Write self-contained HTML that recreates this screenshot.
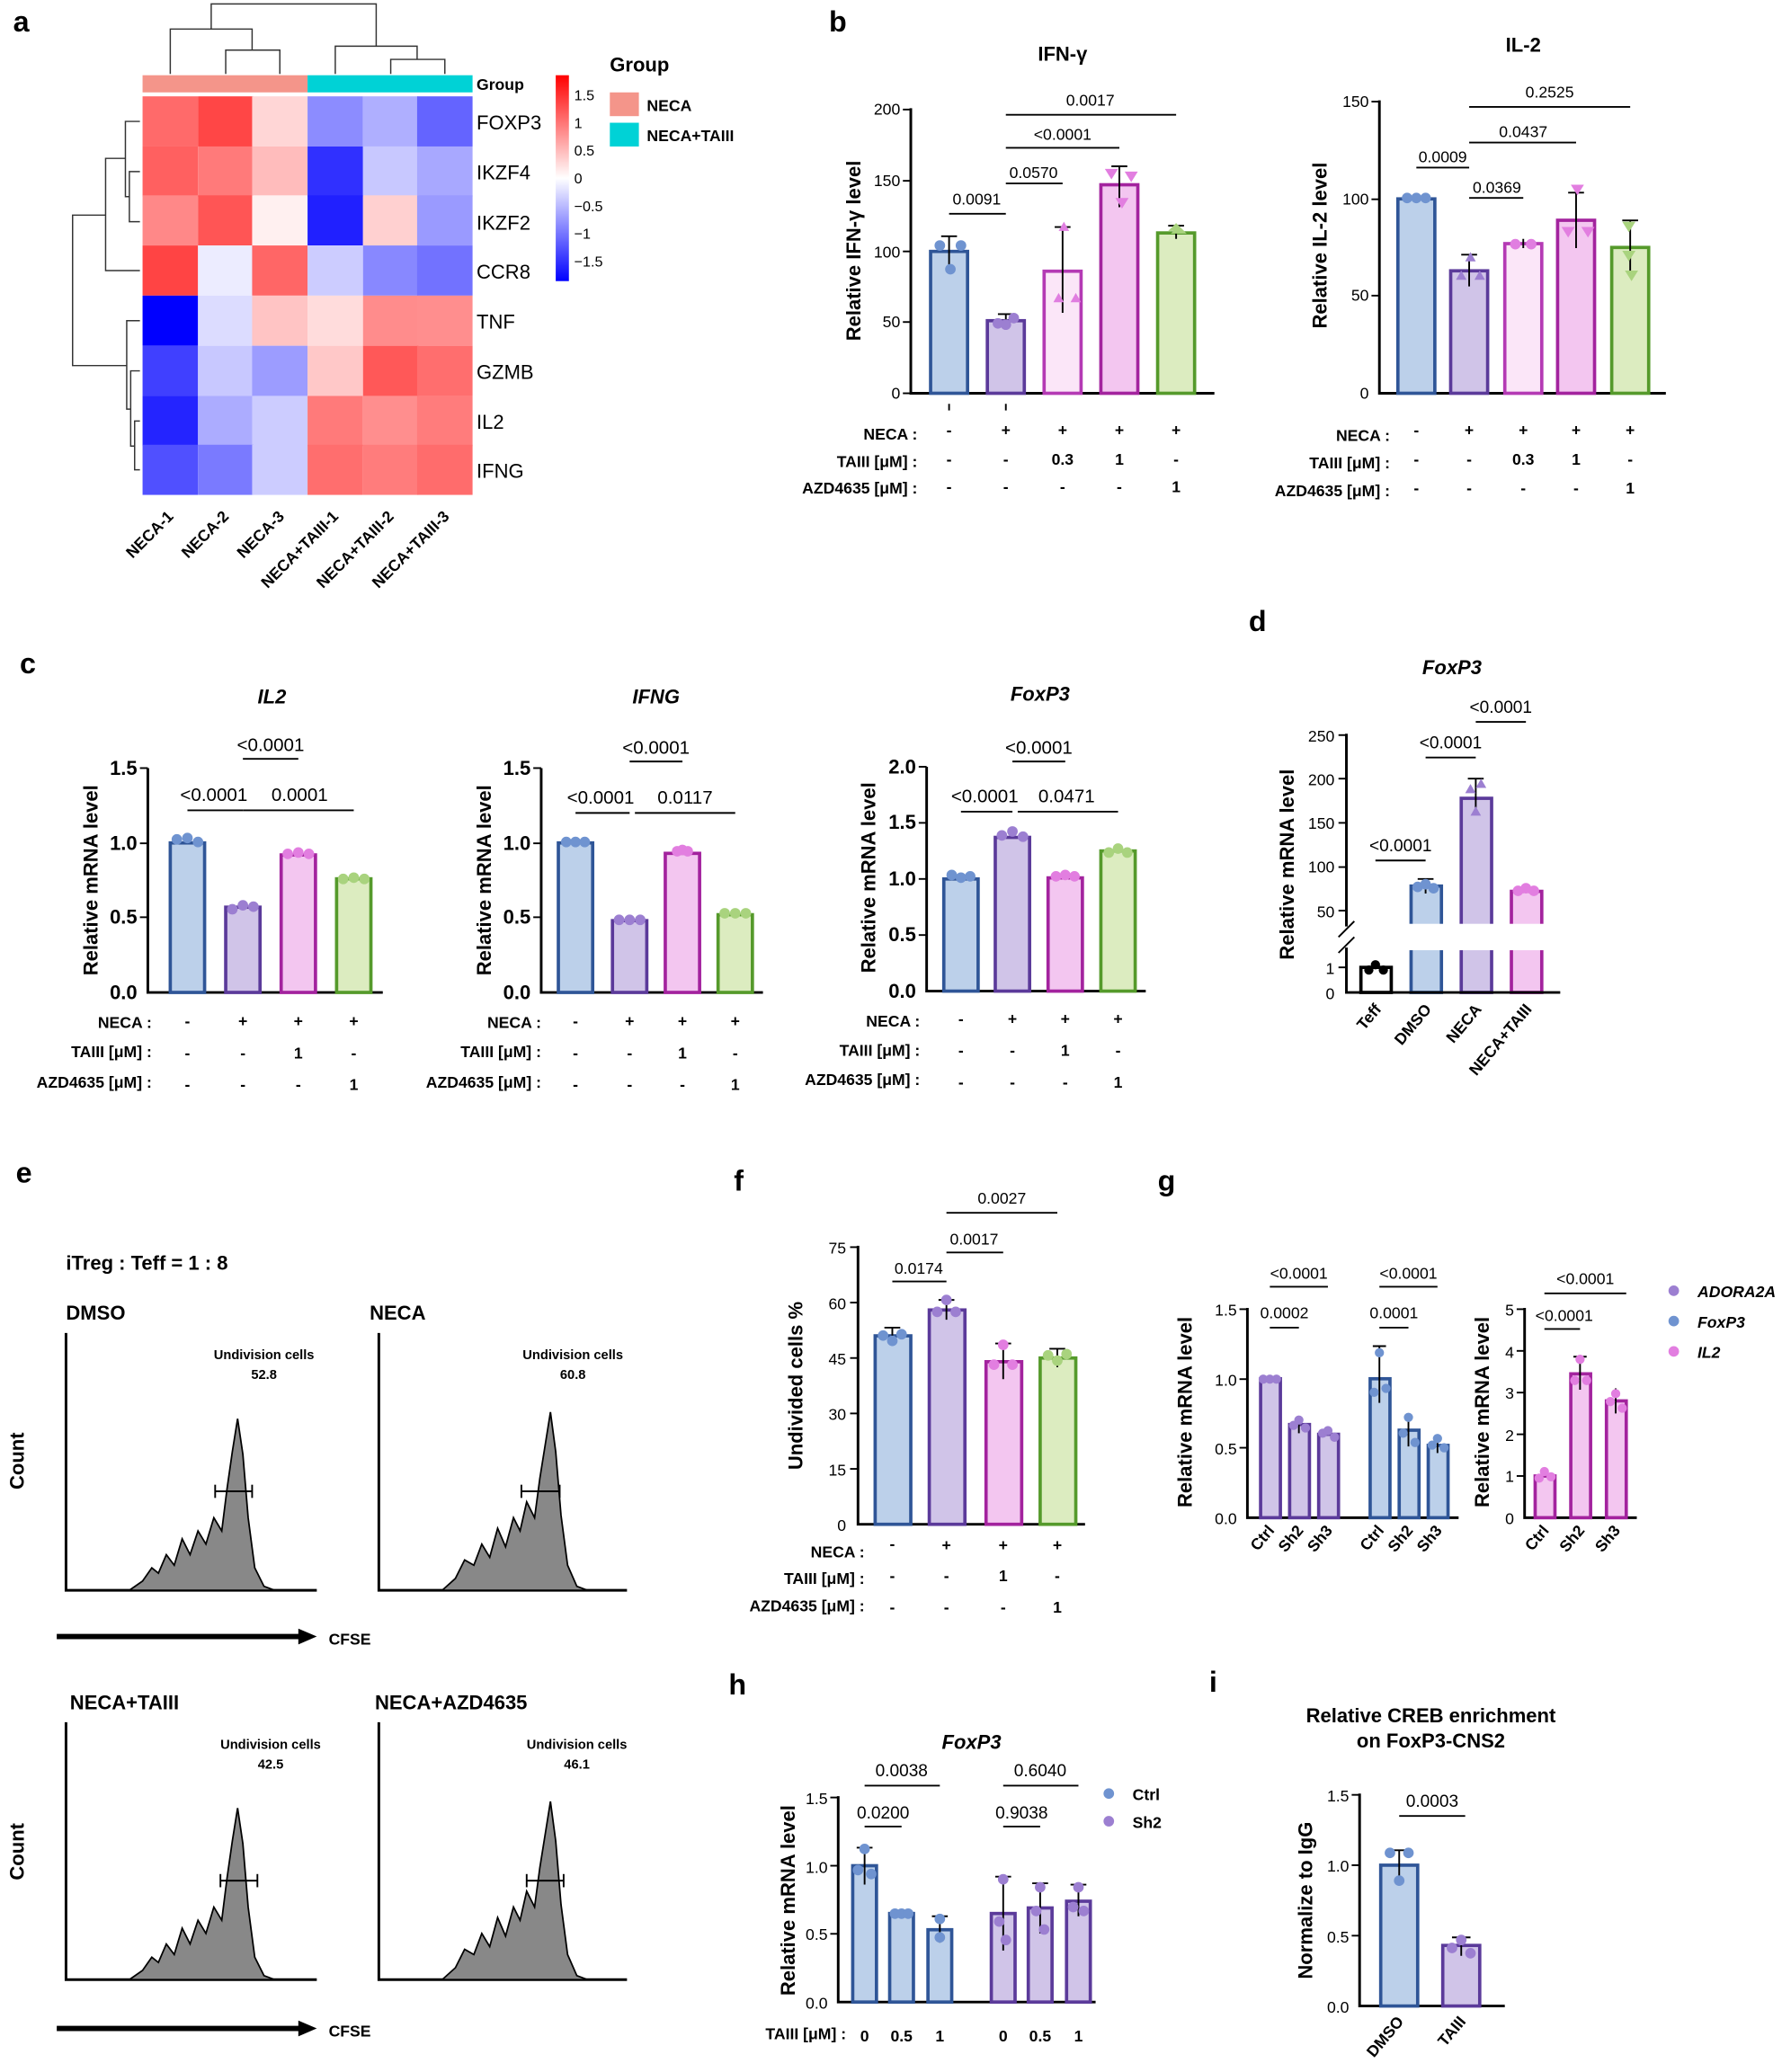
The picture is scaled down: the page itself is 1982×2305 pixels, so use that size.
<!DOCTYPE html>
<html><head><meta charset="utf-8"><style>
html,body{margin:0;padding:0;background:#fff}
svg{display:block}
text{font-family:"Liberation Sans",Arial,sans-serif;fill:#000}
.t{font-size:12px;font-weight:bold}
.s{font-size:12px}
.ti{font-size:15px;font-weight:bold}
.pl{font-size:22px;font-weight:bold}
.ax{stroke:#000;stroke-width:2;fill:none}
.ln{stroke:#000;stroke-width:1.3}
.B{fill:#bcd0ea;stroke:#2f5597;stroke-width:2.5}
.P{fill:#d0c4e8;stroke:#5b3a9a;stroke-width:2.5}
.K{fill:#f3c6f0;stroke:#a3239e;stroke-width:2.5}
.L{fill:#fbe6f8;stroke:#b43ab4;stroke-width:2.5}
.G{fill:#dcecc0;stroke:#559a2b;stroke-width:2.5}
.W{fill:#fff;stroke:#000;stroke-width:2.5}
.dB{fill:#6f93d0}.dP{fill:#9c7fd1}.dK{fill:#e27ee0}.dG{fill:#a9d37e}.dL{fill:#e07ee0}
</style></head><body>
<svg width="1982" height="2305" viewBox="0 0 1350 1570" xmlns="http://www.w3.org/2000/svg">

<!-- ============ Panel a ============ -->
<text class="pl" x="10" y="24">a</text>
<!-- top dendrogram -->
<g stroke="#333" stroke-width="1" fill="none">
<path d="M171,56 V38 H212 V56"/><path d="M129,56 V22 H191 V38"/>
<path d="M296,56 V45 H337 V56"/><path d="M254,56 V35 H316 V45"/>
<path d="M160,22 V3 H285 V35"/>
<!-- left dendrogram -->
<path d="M106,130 H98 V168 H106"/><path d="M106,92 H95 V149 H98"/><path d="M106,205 H80 V120 H95"/>
<path d="M106,319 H102 V356 H106"/><path d="M106,281 H99 V338 H102"/><path d="M106,243 H96 V310 H99"/>
<path d="M80,163 H55 V277 H96"/>
</g>
<rect x="108" y="57" width="125" height="13" fill="#f4958a"/>
<rect x="233" y="57" width="125" height="13" fill="#00d2d6"/>
<text class="t" x="361" y="68">Group</text>
<g>
<!-- rows: y start 73, h 37.75; cols x 108 w 41.67 -->
<rect x="108" y="73" width="42" height="38" fill="#ff6a6a"/><rect x="150" y="73" width="42" height="38" fill="#ff4646"/><rect x="191" y="73" width="42" height="38" fill="#ffd6d6"/><rect x="233" y="73" width="42" height="38" fill="#8c8cff"/><rect x="275" y="73" width="42" height="38" fill="#afafff"/><rect x="316" y="73" width="42" height="38" fill="#6464ff"/>
<rect x="108" y="111" width="42" height="38" fill="#ff6060"/><rect x="150" y="111" width="42" height="38" fill="#ff7a7a"/><rect x="191" y="111" width="42" height="38" fill="#ffbcbc"/><rect x="233" y="111" width="42" height="38" fill="#3030ff"/><rect x="275" y="111" width="42" height="38" fill="#c8c8ff"/><rect x="316" y="111" width="42" height="38" fill="#a8a8ff"/>
<rect x="108" y="148" width="42" height="38" fill="#ff8888"/><rect x="150" y="148" width="42" height="38" fill="#ff5555"/><rect x="191" y="148" width="42" height="38" fill="#fff0f0"/><rect x="233" y="148" width="42" height="38" fill="#2020ff"/><rect x="275" y="148" width="42" height="38" fill="#ffd0d0"/><rect x="316" y="148" width="42" height="38" fill="#9a9aff"/>
<rect x="108" y="186" width="42" height="38" fill="#ff4444"/><rect x="150" y="186" width="42" height="38" fill="#ececff"/><rect x="191" y="186" width="42" height="38" fill="#ff6666"/><rect x="233" y="186" width="42" height="38" fill="#ccccff"/><rect x="275" y="186" width="42" height="38" fill="#8888ff"/><rect x="316" y="186" width="42" height="38" fill="#7272ff"/>
<rect x="108" y="224" width="42" height="38" fill="#0000ff"/><rect x="150" y="224" width="42" height="38" fill="#dcdcff"/><rect x="191" y="224" width="42" height="38" fill="#ffc4c4"/><rect x="233" y="224" width="42" height="38" fill="#ffdcdc"/><rect x="275" y="224" width="42" height="38" fill="#ff8c8c"/><rect x="316" y="224" width="42" height="38" fill="#ff8e8e"/>
<rect x="108" y="262" width="42" height="38" fill="#4040ff"/><rect x="150" y="262" width="42" height="38" fill="#c8c8ff"/><rect x="191" y="262" width="42" height="38" fill="#9c9cff"/><rect x="233" y="262" width="42" height="38" fill="#ffc8c8"/><rect x="275" y="262" width="42" height="38" fill="#ff5858"/><rect x="316" y="262" width="42" height="38" fill="#ff6e6e"/>
<rect x="108" y="300" width="42" height="38" fill="#2424ff"/><rect x="150" y="300" width="42" height="38" fill="#acacff"/><rect x="191" y="300" width="42" height="38" fill="#ccccff"/><rect x="233" y="300" width="42" height="38" fill="#ff7a7a"/><rect x="275" y="300" width="42" height="38" fill="#ff8e8e"/><rect x="316" y="300" width="42" height="38" fill="#ff7c7c"/>
<rect x="108" y="337" width="42" height="38" fill="#5050ff"/><rect x="150" y="337" width="42" height="38" fill="#7a7aff"/><rect x="191" y="337" width="42" height="38" fill="#ccccff"/><rect x="233" y="337" width="42" height="38" fill="#ff6e6e"/><rect x="275" y="337" width="42" height="38" fill="#ff7c7c"/><rect x="316" y="337" width="42" height="38" fill="#ff6c6c"/>
</g>
<g font-size="15"><text x="361" y="98">FOXP3</text><text x="361" y="136">IKZF4</text><text x="361" y="174">IKZF2</text><text x="361" y="211">CCR8</text><text x="361" y="249">TNF</text><text x="361" y="287">GZMB</text><text x="361" y="325">IL2</text><text x="361" y="362">IFNG</text></g>
<g class="t" font-size="13">
<text transform="translate(132,392) rotate(-45)" text-anchor="end">NECA-1</text>
<text transform="translate(174,392) rotate(-45)" text-anchor="end">NECA-2</text>
<text transform="translate(216,392) rotate(-45)" text-anchor="end">NECA-3</text>
<text transform="translate(257,392) rotate(-45)" text-anchor="end">NECA+TAIII-1</text>
<text transform="translate(299,392) rotate(-45)" text-anchor="end">NECA+TAIII-2</text>
<text transform="translate(341,392) rotate(-45)" text-anchor="end">NECA+TAIII-3</text>
</g>
<defs><linearGradient id="cb" x1="0" y1="0" x2="0" y2="1"><stop offset="0" stop-color="#ff0000"/><stop offset="0.5" stop-color="#ffffff"/><stop offset="1" stop-color="#0000ff"/></linearGradient></defs>
<rect x="421" y="57" width="10" height="156" fill="url(#cb)"/>
<g font-size="11"><text x="435" y="76">1.5</text><text x="435" y="97">1</text><text x="435" y="118">0.5</text><text x="435" y="139">0</text><text x="435" y="160">−0.5</text><text x="435" y="181">−1</text><text x="435" y="202">−1.5</text></g>
<text class="ti" font-size="14" x="462" y="54">Group</text>
<rect x="462" y="70" width="22" height="18" fill="#f4958a"/><text class="t" x="490" y="84">NECA</text>
<rect x="462" y="93" width="22" height="18" fill="#00d2d6"/><text class="t" x="490" y="107">NECA+TAIII</text>

<!-- ============ Panel b ============ -->
<text class="pl" x="628" y="24">b</text>
<text class="ti" x="805" y="46" text-anchor="middle">IFN-γ</text>
<text class="ti" transform="translate(652,190) rotate(-90)" text-anchor="middle">Relative IFN-γ level</text>
<path class="ax" d="M690,82 V298 H920"/>
<g class="ln"><line x1="684" y1="83" x2="690" y2="83"/><line x1="684" y1="137" x2="690" y2="137"/><line x1="684" y1="190.5" x2="690" y2="190.5"/><line x1="684" y1="244" x2="690" y2="244"/><line x1="684" y1="298" x2="690" y2="298"/></g>
<g class="s" text-anchor="end"><text x="682" y="87">200</text><text x="682" y="141">150</text><text x="682" y="195">100</text><text x="682" y="248">50</text><text x="682" y="302">0</text></g>
<rect class="B" x="705" y="190.5" width="28" height="107.5"/>
<rect class="P" x="748" y="243" width="28" height="55"/>
<rect class="L" x="791" y="205.5" width="28" height="92.5"/>
<rect class="K" x="834" y="140" width="28" height="158"/>
<rect class="G" x="877" y="176.5" width="28" height="121.5"/>
<g class="ln" stroke-width="1.5">
<path d="M719,179V206M713,179h12"/><path d="M762,238V248M756,238h12"/><path d="M805,172V237M799,172h12"/><path d="M848,126V157M842,126h12"/><path d="M891,171V181M885,171h12"/>
</g>
<circle class="dB" cx="712" cy="186" r="4"/><circle class="dB" cx="728" cy="186" r="4"/><circle class="dB" cx="720" cy="204" r="4"/>
<circle class="dP" cx="756" cy="245" r="4"/><circle class="dP" cx="768" cy="241" r="4"/><circle class="dP" cx="762" cy="246" r="4"/>
<path class="dL" d="M798,229l4,-7l4,7z M811,229l4,-7l4,7z M802,175l4,-7l4,7z"/>
<path class="dK" d="M837,128l5,8l5,-8z M852,130l5,8l5,-8z M845,150l5,8l5,-8z"/>
<path class="dG" d="M885,175l6,-6l6,6z M887,177l6,-6l6,6z"/>
<g class="ln"><line x1="719" y1="162" x2="762" y2="162"/><line x1="762" y1="139" x2="805" y2="139"/><line x1="762" y1="112" x2="848" y2="112"/><line x1="762" y1="87" x2="891" y2="87"/></g>
<g class="s" text-anchor="middle"><text x="740" y="155">0.0091</text><text x="783" y="135">0.0570</text><text x="805" y="106">&lt;0.0001</text><text x="826" y="80">0.0017</text></g>
<g class="ln"><line x1="719" y1="306" x2="719" y2="311"/><line x1="762" y1="306" x2="762" y2="311"/></g>
<g class="t" text-anchor="end"><text x="695" y="333">NECA :</text><text x="695" y="354">TAIII [μM]  :</text><text x="695" y="374">AZD4635 [μM] :</text></g>
<g class="t" text-anchor="middle">
<text x="719" y="330">-</text><text x="762" y="330">+</text><text x="805" y="330">+</text><text x="848" y="330">+</text><text x="891" y="330">+</text>
<text x="719" y="352">-</text><text x="762" y="352">-</text><text x="805" y="352">0.3</text><text x="848" y="352">1</text><text x="891" y="352">-</text>
<text x="719" y="373">-</text><text x="762" y="373">-</text><text x="805" y="373">-</text><text x="848" y="373">-</text><text x="891" y="373">1</text>
</g>

<text class="ti" x="1154" y="39" text-anchor="middle">IL-2</text>
<text class="ti" transform="translate(1005,186) rotate(-90)" text-anchor="middle">Relative IL-2 level</text>
<path class="ax" d="M1045,76 V298 H1262"/>
<g class="ln"><line x1="1039" y1="77" x2="1045" y2="77"/><line x1="1039" y1="151" x2="1045" y2="151"/><line x1="1039" y1="224" x2="1045" y2="224"/></g>
<g class="s" text-anchor="end"><text x="1037" y="81">150</text><text x="1037" y="155">100</text><text x="1037" y="228">50</text><text x="1037" y="302">0</text></g>
<rect class="B" x="1059" y="150.7" width="28" height="147.3"/>
<rect class="P" x="1099" y="205.2" width="28" height="92.8"/>
<rect class="L" x="1140" y="184.6" width="28" height="113.4"/>
<rect class="K" x="1180" y="166.9" width="28" height="131.1"/>
<rect class="G" x="1221" y="187.5" width="28" height="110.5"/>
<g class="ln" stroke-width="1.5"><path d="M1113,193V217M1107,193h12"/><path d="M1154,181V188"/><path d="M1194,146V188M1188,146h12"/><path d="M1235,167V208M1229,167h12"/></g>
<circle class="dB" cx="1066" cy="150" r="4"/><circle class="dB" cx="1073" cy="150" r="4"/><circle class="dB" cx="1080" cy="150" r="4"/>
<path class="dP" d="M1103,212l4,-7l4,7z M1117,212l4,-7l4,7z M1110,198l4,-7l4,7z"/>
<circle class="dL" cx="1148" cy="185" r="4"/><circle class="dL" cx="1160" cy="185" r="4"/>
<path class="dK" d="M1183,172l5,8l5,-8z M1198,172l5,8l5,-8z M1190,140l5,8l5,-8z"/>
<path class="dG" d="M1229,168l5,8l5,-8z M1229,190l5,8l5,-8z M1231,205l5,8l5,-8z"/>
<g class="ln"><line x1="1073" y1="127" x2="1113" y2="127"/><line x1="1113" y1="150" x2="1154" y2="150"/><line x1="1113" y1="108" x2="1194" y2="108"/><line x1="1113" y1="81" x2="1235" y2="81"/></g>
<g class="s" text-anchor="middle"><text x="1093" y="123">0.0009</text><text x="1134" y="146">0.0369</text><text x="1154" y="104">0.0437</text><text x="1174" y="74">0.2525</text></g>
<g class="t" text-anchor="end"><text x="1053" y="334">NECA :</text><text x="1053" y="355">TAIII [μM]  :</text><text x="1053" y="376">AZD4635 [μM] :</text></g>
<g class="t" text-anchor="middle">
<text x="1073" y="330">-</text><text x="1113" y="330">+</text><text x="1154" y="330">+</text><text x="1194" y="330">+</text><text x="1235" y="330">+</text>
<text x="1073" y="352">-</text><text x="1113" y="352">-</text><text x="1154" y="352">0.3</text><text x="1194" y="352">1</text><text x="1235" y="352">-</text>
<text x="1073" y="374">-</text><text x="1113" y="374">-</text><text x="1154" y="374">-</text><text x="1194" y="374">-</text><text x="1235" y="374">1</text>
</g>

<!-- ============ Panel c ============ -->
<text class="pl" x="15" y="510">c</text>
<!-- IL2 -->
<text class="ti" font-style="italic" x="206" y="533" text-anchor="middle">IL2</text>
<text class="ti" transform="translate(74,667) rotate(-90)" text-anchor="middle">Relative mRNA level</text>
<path class="ax" d="M112,582 V752 H290"/>
<g class="ln"><line x1="106" y1="582" x2="112" y2="582"/><line x1="106" y1="639" x2="112" y2="639"/><line x1="106" y1="695" x2="112" y2="695"/></g>
<g class="ti" font-size="14" text-anchor="end"><text x="104" y="587">1.5</text><text x="104" y="644">1.0</text><text x="104" y="700">0.5</text><text x="104" y="757">0.0</text></g>
<rect class="B" x="129" y="638.7" width="26" height="113.3"/><rect class="P" x="171" y="687.4" width="26" height="64.6"/><rect class="K" x="213" y="647.8" width="26" height="104.2"/><rect class="G" x="255" y="665.9" width="26" height="86.1"/>
<circle class="dB" cx="134" cy="636" r="4"/><circle class="dB" cx="142" cy="635" r="4"/><circle class="dB" cx="150" cy="638" r="4"/>
<circle class="dP" cx="176" cy="689" r="4"/><circle class="dP" cx="184" cy="686" r="4"/><circle class="dP" cx="192" cy="687" r="4"/>
<circle class="dK" cx="218" cy="647" r="4"/><circle class="dK" cx="226" cy="646" r="4"/><circle class="dK" cx="234" cy="647" r="4"/>
<circle class="dG" cx="260" cy="666" r="4"/><circle class="dG" cx="268" cy="665" r="4"/><circle class="dG" cx="276" cy="666" r="4"/>
<g class="ln"><line x1="142" y1="614" x2="184" y2="614"/><line x1="184" y1="575" x2="226" y2="575"/><line x1="184" y1="614" x2="268" y2="614"/></g>
<g font-size="14" text-anchor="middle"><text x="162" y="607">&lt;0.0001</text><text x="205" y="569">&lt;0.0001</text><text x="227" y="607">0.0001</text></g>
<g class="t" text-anchor="end"><text x="115" y="779">NECA :</text><text x="115" y="801">TAIII [μM]  :</text><text x="115" y="824">AZD4635 [μM] :</text></g>
<g class="t" text-anchor="middle"><text x="142" y="778">-</text><text x="184" y="778">+</text><text x="226" y="778">+</text><text x="268" y="778">+</text><text x="142" y="802">-</text><text x="184" y="802">-</text><text x="226" y="802">1</text><text x="268" y="802">-</text><text x="142" y="826">-</text><text x="184" y="826">-</text><text x="226" y="826">-</text><text x="268" y="826">1</text></g>
<!-- IFNG -->
<text class="ti" font-style="italic" x="497" y="533" text-anchor="middle">IFNG</text>
<text class="ti" transform="translate(372,667) rotate(-90)" text-anchor="middle">Relative mRNA level</text>
<path class="ax" d="M410,582 V752 H578"/>
<g class="ln"><line x1="404" y1="582" x2="410" y2="582"/><line x1="404" y1="639" x2="410" y2="639"/><line x1="404" y1="695" x2="410" y2="695"/></g>
<g class="ti" font-size="14" text-anchor="end"><text x="402" y="587">1.5</text><text x="402" y="644">1.0</text><text x="402" y="700">0.5</text><text x="402" y="757">0.0</text></g>
<rect class="B" x="423" y="638.7" width="26" height="113.3"/><rect class="P" x="464" y="697.6" width="26" height="54.4"/><rect class="K" x="504" y="646.6" width="26" height="105.4"/><rect class="G" x="544" y="693.1" width="26" height="58.9"/>
<circle class="dB" cx="429" cy="638" r="4"/><circle class="dB" cx="436" cy="638" r="4"/><circle class="dB" cx="443" cy="638" r="4"/>
<circle class="dP" cx="469" cy="697" r="4"/><circle class="dP" cx="477" cy="697" r="4"/><circle class="dP" cx="485" cy="697" r="4"/>
<circle class="dK" cx="513" cy="645" r="4"/><circle class="dK" cx="517" cy="644" r="4"/><circle class="dK" cx="521" cy="645" r="4"/>
<circle class="dG" cx="549" cy="692" r="4"/><circle class="dG" cx="557" cy="692" r="4"/><circle class="dG" cx="565" cy="692" r="4"/>
<g class="ln"><line x1="436" y1="616" x2="477" y2="616"/><line x1="477" y1="577" x2="517" y2="577"/><line x1="481" y1="616" x2="557" y2="616"/></g>
<g font-size="14" text-anchor="middle"><text x="455" y="609">&lt;0.0001</text><text x="497" y="571">&lt;0.0001</text><text x="519" y="609">0.0117</text></g>
<g class="t" text-anchor="end"><text x="410" y="779">NECA :</text><text x="410" y="801">TAIII [μM]  :</text><text x="410" y="824">AZD4635 [μM] :</text></g>
<g class="t" text-anchor="middle"><text x="436" y="778">-</text><text x="477" y="778">+</text><text x="517" y="778">+</text><text x="557" y="778">+</text><text x="436" y="802">-</text><text x="477" y="802">-</text><text x="517" y="802">1</text><text x="557" y="802">-</text><text x="436" y="826">-</text><text x="477" y="826">-</text><text x="517" y="826">-</text><text x="557" y="826">1</text></g>
<!-- FoxP3 -->
<text class="ti" font-style="italic" x="788" y="531" text-anchor="middle">FoxP3</text>
<text class="ti" transform="translate(663,665) rotate(-90)" text-anchor="middle">Relative mRNA level</text>
<path class="ax" d="M702,581 V751 H868"/>
<g class="ln"><line x1="696" y1="581" x2="702" y2="581"/><line x1="696" y1="623.5" x2="702" y2="623.5"/><line x1="696" y1="666" x2="702" y2="666"/><line x1="696" y1="708.5" x2="702" y2="708.5"/></g>
<g class="ti" font-size="14" text-anchor="end"><text x="694" y="586">2.0</text><text x="694" y="628">1.5</text><text x="694" y="671">1.0</text><text x="694" y="713">0.5</text><text x="694" y="756">0.0</text></g>
<rect class="B" x="715" y="666" width="26" height="85"/><rect class="P" x="754" y="634.5" width="26" height="116.5"/><rect class="K" x="794" y="665.2" width="26" height="85.8"/><rect class="G" x="834" y="644.8" width="26" height="106.2"/>
<circle class="dB" cx="721" cy="663" r="4"/><circle class="dB" cx="728" cy="665" r="4"/><circle class="dB" cx="735" cy="664" r="4"/>
<circle class="dP" cx="759" cy="633" r="4"/><circle class="dP" cx="767" cy="630" r="4"/><circle class="dP" cx="775" cy="634" r="4"/>
<circle class="dK" cx="800" cy="664" r="4"/><circle class="dK" cx="807" cy="663" r="4"/><circle class="dK" cx="814" cy="664" r="4"/>
<circle class="dG" cx="840" cy="646" r="4"/><circle class="dG" cx="847" cy="643" r="4"/><circle class="dG" cx="854" cy="646" r="4"/>
<g class="ln"><line x1="728" y1="615" x2="767" y2="615"/><line x1="767" y1="577" x2="807" y2="577"/><line x1="771" y1="615" x2="847" y2="615"/></g>
<g font-size="14" text-anchor="middle"><text x="746" y="608">&lt;0.0001</text><text x="787" y="571">&lt;0.0001</text><text x="808" y="608">0.0471</text></g>
<g class="t" text-anchor="end"><text x="697" y="778">NECA :</text><text x="697" y="800">TAIII [μM]  :</text><text x="697" y="822">AZD4635 [μM] :</text></g>
<g class="t" text-anchor="middle"><text x="728" y="776">-</text><text x="767" y="776">+</text><text x="807" y="776">+</text><text x="847" y="776">+</text><text x="728" y="800">-</text><text x="767" y="800">-</text><text x="807" y="800">1</text><text x="847" y="800">-</text><text x="728" y="824">-</text><text x="767" y="824">-</text><text x="807" y="824">-</text><text x="847" y="824">1</text></g>

<!-- ============ Panel d ============ -->
<text class="pl" x="946" y="478">d</text>
<text class="ti" font-style="italic" x="1100" y="511" text-anchor="middle">FoxP3</text>
<text class="ti" transform="translate(980,655) rotate(-90)" text-anchor="middle">Relative mRNA level</text>
<rect class="W" x="1031" y="733" width="23" height="19"/>
<rect class="B" x="1069" y="671.4" width="23" height="80.6"/>
<rect class="P" x="1107" y="604.9" width="23" height="147.1"/>
<rect class="K" x="1145" y="675.4" width="23" height="76.6"/>
<rect x="1012" y="700" width="170" height="20" fill="#fff"/>
<path class="ax" d="M1020,556 V702 M1020,718 V752 H1182"/>
<g class="ln"><line x1="1014" y1="710" x2="1026" y2="698"/><line x1="1014" y1="722" x2="1026" y2="710"/></g>
<g class="ln"><line x1="1014" y1="557" x2="1020" y2="557"/><line x1="1014" y1="590" x2="1020" y2="590"/><line x1="1014" y1="623.5" x2="1020" y2="623.5"/><line x1="1014" y1="657" x2="1020" y2="657"/><line x1="1014" y1="690" x2="1020" y2="690"/><line x1="1014" y1="733" x2="1020" y2="733"/></g>
<g class="s" font-size="13" text-anchor="end"><text x="1011" y="562">250</text><text x="1011" y="595">200</text><text x="1011" y="628">150</text><text x="1011" y="661">100</text><text x="1011" y="695">50</text><text x="1011" y="738">1</text><text x="1011" y="757">0</text></g>
<g class="ln" stroke-width="1.5"><path d="M1118,590V617M1112,590h12"/><path d="M1080,666V677M1074,666h12"/></g>
<circle cx="1037" cy="735" r="3.5"/><circle cx="1042" cy="731" r="3.5"/><circle cx="1048" cy="735" r="3.5"/>
<circle class="dB" cx="1074" cy="672" r="4"/><circle class="dB" cx="1080" cy="670" r="4"/><circle class="dB" cx="1086" cy="673" r="4"/>
<path class="dP" d="M1110,601l4,-7l4,7z M1118,597l4,-7l4,7z M1114,618l4,-7l4,7z"/>
<circle class="dK" cx="1150" cy="675" r="4"/><circle class="dK" cx="1156" cy="673" r="4"/><circle class="dK" cx="1162" cy="675" r="4"/>
<g class="ln"><line x1="1042" y1="652" x2="1080" y2="652"/><line x1="1080" y1="574" x2="1118" y2="574"/><line x1="1118" y1="547" x2="1156" y2="547"/></g>
<g font-size="13" text-anchor="middle"><text x="1061" y="645">&lt;0.0001</text><text x="1099" y="567">&lt;0.0001</text><text x="1137" y="540">&lt;0.0001</text></g>
<g class="t" font-size="12" text-anchor="end">
<text transform="translate(1047,765) rotate(-50)">Teff</text>
<text transform="translate(1085,765) rotate(-50)">DMSO</text>
<text transform="translate(1123,765) rotate(-50)">NECA</text>
<text transform="translate(1161,765) rotate(-50)">NECA+TAIII</text>
</g>

<!-- ============ Panel e ============ -->
<text class="pl" x="12" y="896">e</text>
<text class="ti" font-size="18" x="50" y="962">iTreg : Teff = 1 : 8</text>
<defs>
<path id="hist" d="M48,195 L58,188 L65,178 L70,182 L76,168 L82,176 L88,156 L94,168 L100,150 L106,160 L112,140 L118,150 L122,118 L126,90 L130,65 L134,92 L138,140 L143,178 L150,192 L158,195 Z" fill="#888" stroke="#000" stroke-width="1.2"/>
<path id="hist2" d="M48,195 L58,186 L65,172 L72,176 L78,160 L84,170 L90,148 L96,162 L102,140 L107,150 L112,128 L118,140 L122,110 L126,85 L130,60 L134,90 L138,138 L143,176 L150,192 L158,195 Z" fill="#888" stroke="#000" stroke-width="1.2"/>
</defs>
<g font-size="5" fill="#333">
<g transform="translate(50,1010)">
<text class="ti" font-size="15" x="0" y="-10">DMSO</text>
<path class="ax" stroke-width="1" d="M0,0 V195 H190"/><use href="#hist"/>
<line class="ln" x1="113" y1="120" x2="141" y2="120"/><line class="ln" x1="113" y1="115" x2="113" y2="125"/><line class="ln" x1="141" y1="115" x2="141" y2="125"/>
<text x="150" y="20" font-size="10" font-weight="bold" text-anchor="middle">Undivision cells</text><text x="150" y="35" font-size="10" font-weight="bold" text-anchor="middle">52.8</text>
</g>
<g transform="translate(287,1010)">
<text class="ti" font-size="15" x="-7" y="-10">NECA</text>
<path class="ax" stroke-width="1" d="M0,0 V195 H188"/><use href="#hist2"/>
<line class="ln" x1="108" y1="120" x2="137" y2="120"/><line class="ln" x1="108" y1="115" x2="108" y2="125"/><line class="ln" x1="137" y1="115" x2="137" y2="125"/>
<text x="147" y="20" font-size="10" font-weight="bold" text-anchor="middle">Undivision cells</text><text x="147" y="35" font-size="10" font-weight="bold" text-anchor="middle">60.8</text>
</g>
<g transform="translate(50,1305)">
<text class="ti" font-size="15" x="3" y="-10">NECA+TAIII</text>
<path class="ax" stroke-width="1" d="M0,0 V195 H190"/><use href="#hist"/>
<line class="ln" x1="117" y1="120" x2="145" y2="120"/><line class="ln" x1="117" y1="115" x2="117" y2="125"/><line class="ln" x1="145" y1="115" x2="145" y2="125"/>
<text x="155" y="20" font-size="10" font-weight="bold" text-anchor="middle">Undivision cells</text><text x="155" y="35" font-size="10" font-weight="bold" text-anchor="middle">42.5</text>
</g>
<g transform="translate(287,1305)">
<text class="ti" font-size="15" x="-3" y="-10">NECA+AZD4635</text>
<path class="ax" stroke-width="1" d="M0,0 V195 H188"/><use href="#hist2"/>
<line class="ln" x1="112" y1="120" x2="140" y2="120"/><line class="ln" x1="112" y1="115" x2="112" y2="125"/><line class="ln" x1="140" y1="115" x2="140" y2="125"/>
<text x="150" y="20" font-size="10" font-weight="bold" text-anchor="middle">Undivision cells</text><text x="150" y="35" font-size="10" font-weight="bold" text-anchor="middle">46.1</text>
</g>
</g>
<text class="ti" font-size="13" transform="translate(18,1107) rotate(-90)" text-anchor="middle">Count</text>
<text class="ti" font-size="13" transform="translate(18,1403) rotate(-90)" text-anchor="middle">Count</text>
<line x1="43" y1="1240" x2="228" y2="1240" stroke="#000" stroke-width="4"/><path d="M226,1234 L240,1240 L226,1246 Z"/>
<text class="t" font-size="13" x="249" y="1246">CFSE</text>
<line x1="43" y1="1537" x2="228" y2="1537" stroke="#000" stroke-width="4"/><path d="M226,1531 L240,1537 L226,1543 Z"/>
<text class="t" font-size="13" x="249" y="1543">CFSE</text>

<!-- ============ Panel f ============ -->
<text class="pl" x="556" y="902">f</text>
<text class="ti" transform="translate(608,1050) rotate(-90)" text-anchor="middle">Undivided cells %</text>
<path class="ax" d="M650,944 V1155 H822"/>
<g class="ln"><line x1="644" y1="945" x2="650" y2="945"/><line x1="644" y1="987" x2="650" y2="987"/><line x1="644" y1="1029" x2="650" y2="1029"/><line x1="644" y1="1071" x2="650" y2="1071"/><line x1="644" y1="1113" x2="650" y2="1113"/></g>
<g class="s" font-size="13" text-anchor="end"><text x="641" y="950">75</text><text x="641" y="992">60</text><text x="641" y="1034">45</text><text x="641" y="1076">30</text><text x="641" y="1118">15</text><text x="641" y="1160">0</text></g>
<rect class="B" x="663" y="1012.2" width="27" height="142.8"/><rect class="P" x="704" y="992.6" width="27" height="162.4"/><rect class="K" x="747" y="1031.8" width="27" height="123.2"/><rect class="G" x="788" y="1029" width="27" height="126"/>
<g class="ln" stroke-width="1.5"><path d="M676,1006V1019M670,1006h12"/><path d="M717,985V1000M711,985h12"/><path d="M760,1018V1045M754,1018h12"/><path d="M801,1022V1036M795,1022h12"/></g>
<circle class="dB" cx="669" cy="1012" r="4"/><circle class="dB" cx="676" cy="1016" r="4"/><circle class="dB" cx="683" cy="1011" r="4"/>
<circle class="dP" cx="710" cy="994" r="4"/><circle class="dP" cx="717" cy="985" r="4"/><circle class="dP" cx="724" cy="994" r="4"/>
<circle class="dK" cx="753" cy="1034" r="4"/><circle class="dK" cx="760" cy="1019" r="4"/><circle class="dK" cx="767" cy="1034" r="4"/>
<circle class="dG" cx="794" cy="1027" r="4"/><circle class="dG" cx="801" cy="1031" r="4"/><circle class="dG" cx="808" cy="1026" r="4"/>
<g class="ln"><line x1="676" y1="971" x2="717" y2="971"/><line x1="717" y1="949" x2="760" y2="949"/><line x1="717" y1="919" x2="801" y2="919"/></g>
<g class="s" text-anchor="middle"><text x="696" y="965">0.0174</text><text x="738" y="943">0.0017</text><text x="759" y="912">0.0027</text></g>
<g class="t" font-size="13" text-anchor="end"><text x="655" y="1180">NECA :</text><text x="655" y="1200">TAIII [μM] :</text><text x="655" y="1221">AZD4635 [μM] :</text></g>
<g class="t" text-anchor="middle"><text x="676" y="1174">-</text><text x="717" y="1175">+</text><text x="760" y="1175">+</text><text x="801" y="1175">+</text><text x="676" y="1198">-</text><text x="717" y="1198">-</text><text x="760" y="1198">1</text><text x="801" y="1198">-</text><text x="676" y="1222">-</text><text x="717" y="1222">-</text><text x="760" y="1222">-</text><text x="801" y="1222">1</text></g>

<!-- ============ Panel g ============ -->
<text class="pl" x="877" y="902">g</text>
<text class="ti" font-size="13" transform="translate(903,1070) rotate(-90)" text-anchor="middle">Relative mRNA level</text>
<path class="ax" d="M945,991 V1150 H1105"/>
<g class="ln"><line x1="939" y1="992" x2="945" y2="992"/><line x1="939" y1="1045" x2="945" y2="1045"/><line x1="939" y1="1097" x2="945" y2="1097"/></g>
<g class="s" font-size="13" text-anchor="end"><text x="937" y="997">1.5</text><text x="937" y="1050">1.0</text><text x="937" y="1102">0.5</text><text x="937" y="1155">0.0</text></g>
<rect class="P" x="955" y="1044.7" width="15" height="105.3"/><rect class="P" x="977" y="1079.4" width="15" height="70.6"/><rect class="P" x="999" y="1086.8" width="15" height="63.2"/>
<rect class="B" x="1038" y="1044.7" width="15" height="105.3"/><rect class="B" x="1060" y="1083.7" width="15" height="66.3"/><rect class="B" x="1082" y="1095.2" width="15" height="54.8"/>
<g class="ln" stroke-width="1.5"><path d="M984,1074V1086"/><path d="M1045,1020V1063M1040,1020h10"/><path d="M1067,1072V1096"/><path d="M1089,1090V1101"/></g>
<circle class="dP" cx="957" cy="1045" r="3.5"/><circle class="dP" cx="962" cy="1045" r="3.5"/><circle class="dP" cx="967" cy="1045" r="3.5"/>
<circle class="dP" cx="980" cy="1080" r="3.5"/><circle class="dP" cx="984" cy="1076" r="3.5"/><circle class="dP" cx="989" cy="1082" r="3.5"/>
<circle class="dP" cx="1002" cy="1086" r="3.5"/><circle class="dP" cx="1006" cy="1084" r="3.5"/><circle class="dP" cx="1011" cy="1089" r="3.5"/>
<circle class="dB" cx="1041" cy="1055" r="3.5"/><circle class="dB" cx="1045" cy="1025" r="3.5"/><circle class="dB" cx="1050" cy="1052" r="3.5"/>
<circle class="dB" cx="1063" cy="1086" r="3.5"/><circle class="dB" cx="1067" cy="1074" r="3.5"/><circle class="dB" cx="1072" cy="1093" r="3.5"/>
<circle class="dB" cx="1085" cy="1095" r="3.5"/><circle class="dB" cx="1089" cy="1090" r="3.5"/><circle class="dB" cx="1094" cy="1097" r="3.5"/>
<g class="ln"><line x1="962" y1="1006" x2="984" y2="1006"/><line x1="962" y1="975" x2="1006" y2="975"/><line x1="1045" y1="1006" x2="1067" y2="1006"/><line x1="1045" y1="975" x2="1089" y2="975"/></g>
<g class="s" text-anchor="middle"><text x="973" y="999">0.0002</text><text x="984" y="969">&lt;0.0001</text><text x="1056" y="999">0.0001</text><text x="1067" y="969">&lt;0.0001</text></g>
<g class="t" font-size="13" text-anchor="end">
<text transform="translate(966,1160) rotate(-50)">Ctrl</text><text transform="translate(988,1160) rotate(-50)">Sh2</text><text transform="translate(1010,1160) rotate(-50)">Sh3</text>
<text transform="translate(1049,1160) rotate(-50)">Ctrl</text><text transform="translate(1071,1160) rotate(-50)">Sh2</text><text transform="translate(1093,1160) rotate(-50)">Sh3</text>
<text transform="translate(1174,1160) rotate(-50)">Ctrl</text><text transform="translate(1201,1160) rotate(-50)">Sh2</text><text transform="translate(1228,1160) rotate(-50)">Sh3</text>
</g>
<text class="ti" font-size="13" transform="translate(1128,1070) rotate(-90)" text-anchor="middle">Relative mRNA level</text>
<path class="ax" d="M1155,991 V1150 H1240"/>
<g class="ln"><line x1="1149" y1="992" x2="1155" y2="992"/><line x1="1149" y1="1023.6" x2="1155" y2="1023.6"/><line x1="1149" y1="1055.2" x2="1155" y2="1055.2"/><line x1="1149" y1="1086.8" x2="1155" y2="1086.8"/><line x1="1149" y1="1118.4" x2="1155" y2="1118.4"/></g>
<g class="s" font-size="13" text-anchor="end"><text x="1147" y="997">5</text><text x="1147" y="1029">4</text><text x="1147" y="1060">3</text><text x="1147" y="1092">2</text><text x="1147" y="1123">1</text><text x="1147" y="1155">0</text></g>
<rect class="K" x="1163" y="1118.4" width="15" height="31.6"/><rect class="K" x="1190" y="1041" width="15" height="109"/><rect class="K" x="1217" y="1061.5" width="15" height="88.5"/>
<g class="ln" stroke-width="1.5"><path d="M1197,1028V1053M1192,1028h10"/><path d="M1224,1052V1071"/></g>
<circle class="dK" cx="1166" cy="1120" r="3.5"/><circle class="dK" cx="1170" cy="1115" r="3.5"/><circle class="dK" cx="1175" cy="1119" r="3.5"/>
<circle class="dK" cx="1193" cy="1046" r="3.5"/><circle class="dK" cx="1197" cy="1030" r="3.5"/><circle class="dK" cx="1202" cy="1046" r="3.5"/>
<circle class="dK" cx="1220" cy="1062" r="3.5"/><circle class="dK" cx="1224" cy="1056" r="3.5"/><circle class="dK" cx="1229" cy="1067" r="3.5"/>
<g class="ln"><line x1="1170" y1="1007" x2="1197" y2="1007"/><line x1="1170" y1="980" x2="1232" y2="980"/></g>
<g class="s" text-anchor="middle"><text x="1185" y="1001">&lt;0.0001</text><text x="1201" y="973">&lt;0.0001</text></g>
<circle class="dP" cx="1268" cy="978" r="4"/><text class="t" font-style="italic" x="1286" y="983">ADORA2A</text>
<circle class="dB" cx="1268" cy="1001" r="4"/><text class="t" font-style="italic" x="1286" y="1006">FoxP3</text>
<circle class="dK" cx="1268" cy="1024" r="4"/><text class="t" font-style="italic" x="1286" y="1029">IL2</text>

<!-- ============ Panel h ============ -->
<text class="pl" x="552" y="1284">h</text>
<text class="ti" font-size="16" font-style="italic" x="736" y="1325" text-anchor="middle">FoxP3</text>
<text class="ti" font-size="13" transform="translate(602,1440) rotate(-90)" text-anchor="middle">Relative mRNA level</text>
<path class="ax" d="M635,1361 V1517 H830"/>
<g class="ln"><line x1="629" y1="1362" x2="635" y2="1362"/><line x1="629" y1="1413.7" x2="635" y2="1413.7"/><line x1="629" y1="1465.3" x2="635" y2="1465.3"/></g>
<g class="s" font-size="13" text-anchor="end"><text x="627" y="1367">1.5</text><text x="627" y="1419">1.0</text><text x="627" y="1470">0.5</text><text x="627" y="1522">0.0</text></g>
<rect class="B" x="646" y="1413.7" width="18" height="103.3"/><rect class="B" x="674" y="1449.9" width="18" height="67.1"/><rect class="B" x="703" y="1462.2" width="18" height="54.8"/>
<rect class="P" x="751" y="1449.9" width="18" height="67.1"/><rect class="P" x="779" y="1445.7" width="18" height="71.3"/><rect class="P" x="808" y="1440.6" width="18" height="76.4"/>
<g class="ln" stroke-width="1.5"><path d="M655,1400V1428M649,1400h12"/><path d="M712,1452V1472M706,1452h12"/><path d="M760,1422V1478M754,1422h12"/><path d="M788,1427V1465M782,1427h12"/><path d="M817,1428V1452M811,1428h12"/></g>
<circle class="dB" cx="650" cy="1417" r="4"/><circle class="dB" cx="655" cy="1401" r="4"/><circle class="dB" cx="660" cy="1420" r="4"/>
<circle class="dB" cx="678" cy="1450" r="4"/><circle class="dB" cx="683" cy="1450" r="4"/><circle class="dB" cx="688" cy="1450" r="4"/>
<circle class="dB" cx="712" cy="1454" r="4"/><circle class="dB" cx="712" cy="1468" r="4"/>
<circle class="dP" cx="760" cy="1424" r="4"/><circle class="dP" cx="757" cy="1456" r="4"/><circle class="dP" cx="762" cy="1470" r="4"/>
<circle class="dP" cx="788" cy="1430" r="4"/><circle class="dP" cx="785" cy="1448" r="4"/><circle class="dP" cx="791" cy="1462" r="4"/>
<circle class="dP" cx="817" cy="1430" r="4"/><circle class="dP" cx="813" cy="1445" r="4"/><circle class="dP" cx="821" cy="1448" r="4"/>
<g class="ln"><line x1="655" y1="1384" x2="683" y2="1384"/><line x1="655" y1="1353" x2="712" y2="1353"/><line x1="760" y1="1384" x2="788" y2="1384"/><line x1="760" y1="1353" x2="817" y2="1353"/></g>
<g font-size="13" text-anchor="middle"><text x="669" y="1378">0.0200</text><text x="683" y="1346">0.0038</text><text x="774" y="1378">0.9038</text><text x="788" y="1346">0.6040</text></g>
<text class="t" font-size="14" x="641" y="1545" text-anchor="end">TAIII [μM] :</text>
<g class="t" font-size="14" text-anchor="middle"><text x="655" y="1547">0</text><text x="683" y="1547">0.5</text><text x="712" y="1547">1</text><text x="760" y="1547">0</text><text x="788" y="1547">0.5</text><text x="817" y="1547">1</text></g>
<circle class="dB" cx="840" cy="1359" r="4"/><text class="t" x="858" y="1364">Ctrl</text>
<circle class="dP" cx="840" cy="1380" r="4"/><text class="t" x="858" y="1385">Sh2</text>

<!-- ============ Panel i ============ -->
<text class="pl" x="916" y="1282">i</text>
<text class="ti" x="1084" y="1305" text-anchor="middle">Relative CREB enrichment</text>
<text class="ti" x="1084" y="1324" text-anchor="middle">on FoxP3-CNS2</text>
<text class="ti" font-size="14" transform="translate(994,1440) rotate(-90)" text-anchor="middle">Normalize to IgG</text>
<path class="ax" d="M1030,1359 V1520 H1140"/>
<g class="ln"><line x1="1024" y1="1360" x2="1030" y2="1360"/><line x1="1024" y1="1413.3" x2="1030" y2="1413.3"/><line x1="1024" y1="1466.7" x2="1030" y2="1466.7"/></g>
<g class="s" font-size="13" text-anchor="end"><text x="1022" y="1365">1.5</text><text x="1022" y="1418">1.0</text><text x="1022" y="1472">0.5</text><text x="1022" y="1525">0.0</text></g>
<rect class="B" x="1046" y="1413.3" width="28" height="106.7"/><rect class="P" x="1093" y="1474.1" width="28" height="45.9"/>
<g class="ln" stroke-width="1.5"><path d="M1060,1402V1428M1053,1402h14"/><path d="M1107,1468V1482M1100,1468h14"/></g>
<circle class="dB" cx="1053" cy="1404" r="4"/><circle class="dB" cx="1060" cy="1425" r="4"/><circle class="dB" cx="1067" cy="1404" r="4"/>
<circle class="dP" cx="1100" cy="1476" r="4"/><circle class="dP" cx="1107" cy="1470" r="4"/><circle class="dP" cx="1114" cy="1480" r="4"/>
<line class="ln" x1="1060" y1="1376" x2="1110" y2="1376"/>
<text font-size="13" x="1085" y="1369" text-anchor="middle">0.0003</text>
<g class="t" font-size="13" text-anchor="end"><text transform="translate(1064,1532) rotate(-50)">DMSO</text><text transform="translate(1111,1532) rotate(-50)">TAIII</text></g>
</svg>
</body></html>
